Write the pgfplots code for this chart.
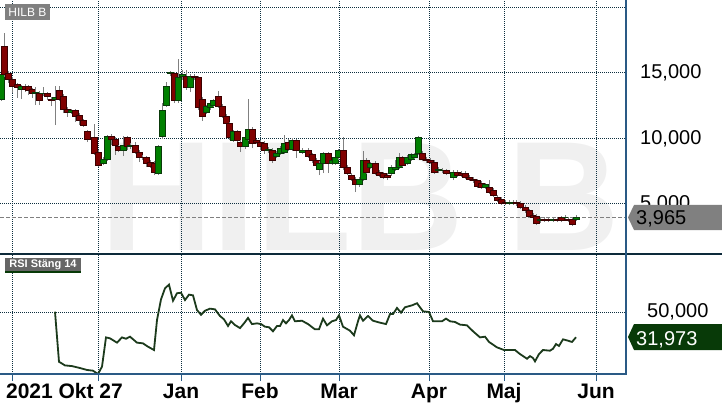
\documentclass[border=0pt]{standalone}
\usepackage{pgfplots}
\pgfplotsset{compat=1.18}
\usepackage{pgfplotstable}
\usepackage{fontspec}
\setmainfont{Liberation Sans}

\definecolor{gridc}{HTML}{0D2F3F}
\definecolor{axc}{HTML}{2A5A85}
\definecolor{sepc}{HTML}{0D2A3A}
\definecolor{dnfill}{HTML}{800000}
\definecolor{dnline}{HTML}{3A0000}
\definecolor{upfill}{HTML}{008000}
\definecolor{upline}{HTML}{0A3A0A}
\definecolor{wickc}{HTML}{808080}
\definecolor{rsic}{HTML}{1C3A1C}
\definecolor{taggray}{HTML}{808080}
\definecolor{taggreen}{HTML}{083A08}
\definecolor{wmark}{HTML}{F0F0F0}

\pgfdeclareplotmark{blank}{}

% daily candles: x position, open, high, low, close
\pgfplotstableread{
x o h l c
1.5 13011 14995 12859 14843
4.5 17055 18047 14690 14843
8.5 14995 15148 14232 14461
12.5 14537 14690 13469 13927
17 14080 14232 13088 13851
21 13774 14080 13011 13927
25 14003 14156 13545 13698
28.5 13927 14080 13316 13622
32 13698 13851 13088 13469
35.5 13469 13927 12553 13545
39.5 13469 13622 12553 12859
43 13393 13927 13240 13469
47.5 13393 13545 12935 13164
51.5 13011 13164 12477 12859
55 13011 14003 11027 13088
59.5 13622 14003 12859 13011
63.5 13240 13393 11943 12248
67.5 12248 12401 11638 12019
71 12019 12248 11867 12096
75 12096 12248 11256 11638
79.5 11790 11943 11027 11333
83.5 11333 11485 10875 11027
87.7 10494 10646 9730 9959
94.8 10036 11104 8739 8891
98.5 8967 9120 7823 7975
103 8128 8586 7975 8433
107 8433 10265 8281 10112
111 10188 10341 9501 9959
115 9959 10112 8739 9501
118.5 9349 9501 8967 9120
123 9120 10188 8662 9501
127 10036 10188 9120 9349
130.5 9349 9654 9196 9501
135 9501 9730 8815 8967
139 8967 9120 8204 8586
142.5 8586 8739 8357 8510
146.5 8510 8662 7823 8128
150.5 8204 8357 7747 7899
154.5 8128 8281 7212 7441
158 7365 9501 7212 9349
162 10188 12706 9959 12096
166 12553 14308 12401 13927
170 14919 15148 14766 15071
174 14919 15071 12706 12859
178 12859 16063 12706 14614
182 14690 15224 14461 14843
186 14766 15224 13698 13851
190 13851 14919 13545 14766
194 14766 14919 14461 14614
198 14614 14766 12172 12325
202 13011 13164 11333 11638
206 12019 12553 11867 12401
210 12325 12782 12172 12630
213.5 12553 13011 12401 12859
218 13240 13622 12325 12477
222 12477 12630 11562 11714
226 11714 11867 10951 11104
229.5 11104 11256 9883 10036
233 9883 10646 9730 10494
237 10494 10646 9578 9883
240.5 9730 9883 8967 9425
245 9349 10188 9196 10036
248.5 9959 13011 9807 10722
252.5 10722 10875 9272 9654
256 9807 9959 9578 9730
260 9730 9883 9120 9425
264 9654 9807 8815 9120
268 9044 9349 8891 9196
272 9120 9272 8128 8357
276 8662 9044 8510 8891
280 8891 9425 8739 9272
284 8967 10265 8815 9578
288 9730 9959 9044 9196
292 9196 10036 9044 9883
296 9807 9959 8510 9044
302.5 8967 9272 8815 9120
308 9120 9272 8510 8662
312 8739 8891 8128 8281
316 8357 8510 7823 7975
319.5 7670 8281 7212 8128
323.5 8128 8967 7365 8815
328 8815 8967 7365 8128
332 8128 8510 7975 8357
335.5 8128 8662 7975 8510
338 8510 9196 8357 9044
343.5 9044 10112 7594 7747
347 7823 7975 7212 7365
351 7212 7365 6755 6907
355 6907 7060 5915 6450
359 6450 7060 6297 6907
363 6907 9044 6755 8281
366.5 8357 8510 7289 7441
370 7823 8204 7670 8052
375 8128 8281 7212 7365
379 7441 7594 7060 7212
383 7289 7441 6907 7060
387 7212 7365 6831 7060
391 7289 7975 7136 7823
395 7670 8357 7518 7823
399 7823 8891 7670 8510
402.5 8510 8662 7823 7975
407 8128 8739 7975 8586
411 8433 8891 8281 8739
414.5 8586 8891 8433 8739
418.5 8891 10188 8739 10036
422.5 8891 9044 8281 8433
426.5 8433 8586 8128 8281
430.5 8357 8510 8052 8204
434 8204 8357 7289 7441
438 7518 7823 7365 7670
442 7518 7747 7365 7594
446 7518 7670 7212 7365
453.5 6984 7594 6831 7441
457.5 7441 7594 7060 7212
461.5 7365 7518 7060 7212
465.5 7365 7518 6907 7060
469 7060 7212 6755 6907
473 6907 7060 6602 6755
477 6755 6907 6221 6373
481 6602 6755 6144 6297
485 6297 6602 6144 6450
489 6297 6831 5763 5915
493 6068 6221 5534 5686
497 5534 5686 5152 5305
501 5381 5534 4924 5076
505 5152 5305 4924 5076
509 5076 5305 4924 5152
513 5076 5305 4924 5152
516.5 5152 5305 4847 5000
520 5076 5229 4618 4771
525 4771 4924 4313 4466
529 4466 4618 3932 4084
533 4160 4313 3855 4008
536 4084 4237 3397 3550
540 3703 4008 3550 3855
544 3855 4008 3626 3779
548 3855 4008 3626 3779
553 3779 4008 3626 3855
557 3855 4008 3626 3779
561 3932 4084 3626 3779
565 3932 4160 3779 4008
568.5 3855 4008 3626 3779
572 3855 4008 3321 3474
576 3855 4160 3703 3965
}\candles

% RSI (close, 14)
\pgfplotstableread{
x rsi
55 50.4
59 14.3
65 11.7
72 11.2
80 9.8
87 8.4
93 7.9
98 5.5
102 10.8
106 31.9
110 31.2
117 28.1
122 31.9
126 30.9
130 32.4
137 28.1
143 27.6
148 25.2
154 22.8
157 44.4
161 59.3
165 67.3
169 69.9
173 58.3
177 63.7
181 64.1
185 58.8
189 62.7
193 62.2
197 51.6
201 48.2
205 51.1
210 52.6
215 52.1
220 47.3
224 44.9
228 40.1
231 43.5
235 40.8
240 38.6
244 42.0
248 45.9
252 41.5
257 42.0
261 41.5
265 39.6
269 39.2
273 36.3
277 40.1
280 40.1
283 44.4
286 42.0
289 44.4
292 47.8
295 43.5
302 43.9
308 41.5
315 37.7
319 37.7
323 45.4
327 40.6
332 43.5
336 44.4
339 47.8
343 39.6
350 36.7
354 33.4
358 43.5
360 47.8
363 43.9
368 47.3
373 43.9
380 42.5
386 41.5
390 48.7
393 48.7
397 53.1
401 49.7
405 53.6
412 55.0
417 56.5
423 50.7
429 50.2
433 43.5
442 43.5
446 45.4
450 43.5
455 43.0
460 41.1
467 40.6
473 36.3
480 31.9
485 32.4
489 28.6
497 24.7
504 22.8
515 22.8
519 20.4
527 16.5
530 18.4
533 17.0
535 14.6
539 19.9
543 22.8
550 22.3
553 23.7
556 27.1
559 25.7
563 30.5
568 29.5
572 28.6
576 32.0
}\rsidata

\pgfplotsset{
  panel/.style={
    scale only axis, width=626pt, xmin=0, xmax=626, anchor=south west,
    axis line style={draw=none},
    xtick={12,98,181,260,339,429,504,596},
    grid=major,
    major grid style={gridc, line width=1pt, dash pattern=on 1pt off 1pt},
    ytick style={draw=none},
    yticklabel pos=right,
    yticklabel style={anchor=west, inner sep=0pt, xshift=14pt,
      font=\fontsize{20}{24}\selectfont},
    clip marker paths=true,
  },
}

\begin{document}
\begin{tikzpicture}
\node[anchor=base, text=wmark, inner sep=0pt,
  font=\fontsize{156}{156}\selectfont\bfseries] at (360pt,160pt) {HILB B};

\begin{axis}[panel, at={(0pt,156pt)}, height=254pt, ymin=1185, ymax=20565,
  ytick={5000,10000,15000,20000},
  yticklabels={5{,}000,10{,}000,15{,}000,{}},
  xticklabels={}, xtick style={draw=none}]
\addplot[wickc, dash pattern=on 4pt off 2pt, line width=1pt]
  coordinates {(0,3965) (626,3965)};
\addplot[only marks, scatter, mark=blank,
  visualization depends on={(\thisrow{o}-\thisrow{c})*0.0131063 \as \dO},
  visualization depends on={(\thisrow{h}-\thisrow{c})*0.0131063 \as \dH},
  visualization depends on={(\thisrow{l}-\thisrow{c})*0.0131063 \as \dL},
  scatter/@pre marker code/.code={%
    \draw[wickc, line width=1pt] (0pt,\dL pt) -- (0pt,\dH pt);
    \ifdim\dO pt>0pt
      \filldraw[fill=dnfill, draw=dnline, line width=1pt] (-3pt,0pt) rectangle (3pt,\dO pt);
    \else
      \filldraw[fill=upfill, draw=upline, line width=1pt] (-3pt,0pt) rectangle (3pt,\dO pt);
    \fi},
  scatter/@post marker code/.code={},
] table[x=x, y=c] {\candles};
\end{axis}

\begin{axis}[panel, at={(0pt,36pt)}, height=120pt, ymin=5.5, ymax=92,
  ytick={50}, yticklabels={50{,}000},
  xticklabels={,,Jan,Feb,Mar,Apr,Maj,Jun},
  xtick pos=bottom, tick align=outside, major tick length=7pt,
  xtick style={axc, line width=1pt},
  xticklabel style={anchor=base, yshift=-17pt,
    font=\fontsize{21}{24}\selectfont\bfseries},
  extra x ticks={64.5}, extra x tick labels={2021 Okt 27},
  extra x tick style={grid=none, xtick style={draw=none}}]
\addplot[rsic, line width=1.8pt] table[x=x, y=rsi] {\rsidata};
\end{axis}

\draw[sepc, line width=2.7pt] (0pt,156pt) -- (722pt,156pt);
\draw[axc, line width=1.3pt] (626pt,36pt) -- (626pt,410pt);
\draw[axc, line width=1.3pt] (0pt,36pt) -- (626.6pt,36pt);

% panel labels
\fill[taggray] (5pt,390pt) rectangle (50pt,406pt);
\node[text=white, inner sep=0pt, font=\fontsize{12}{12}\selectfont] at (27.5pt,398pt) {HILB B};
\fill[black!60] (5pt,137pt) rectangle (81pt,152pt);
\fill[taggreen] (5pt,137pt) rectangle (81pt,139pt);
\node[text=white, inner sep=0pt, font=\fontsize{11}{11}\selectfont\bfseries] at (43pt,145.5pt) {RSI Stäng 14};

% last value tags
\fill[taggray] (628pt,192.5pt) -- (634pt,205pt) -- (722pt,205pt) -- (722pt,180pt) -- (634pt,180pt) -- cycle;
\node[anchor=base west, inner sep=0pt, font=\fontsize{20}{20}\selectfont] at (636pt,185.5pt) {3,965};
\fill[taggreen] (628pt,73pt) -- (634pt,86pt) -- (722pt,86pt) -- (722pt,60pt) -- (634pt,60pt) -- cycle;
\node[anchor=base west, inner sep=0pt, text=white, font=\fontsize{20}{20}\selectfont] at (636pt,65pt) {31,973};

\pgfresetboundingbox
\useasboundingbox (0pt,0pt) rectangle (722pt,410pt);
\end{tikzpicture}
\end{document}
